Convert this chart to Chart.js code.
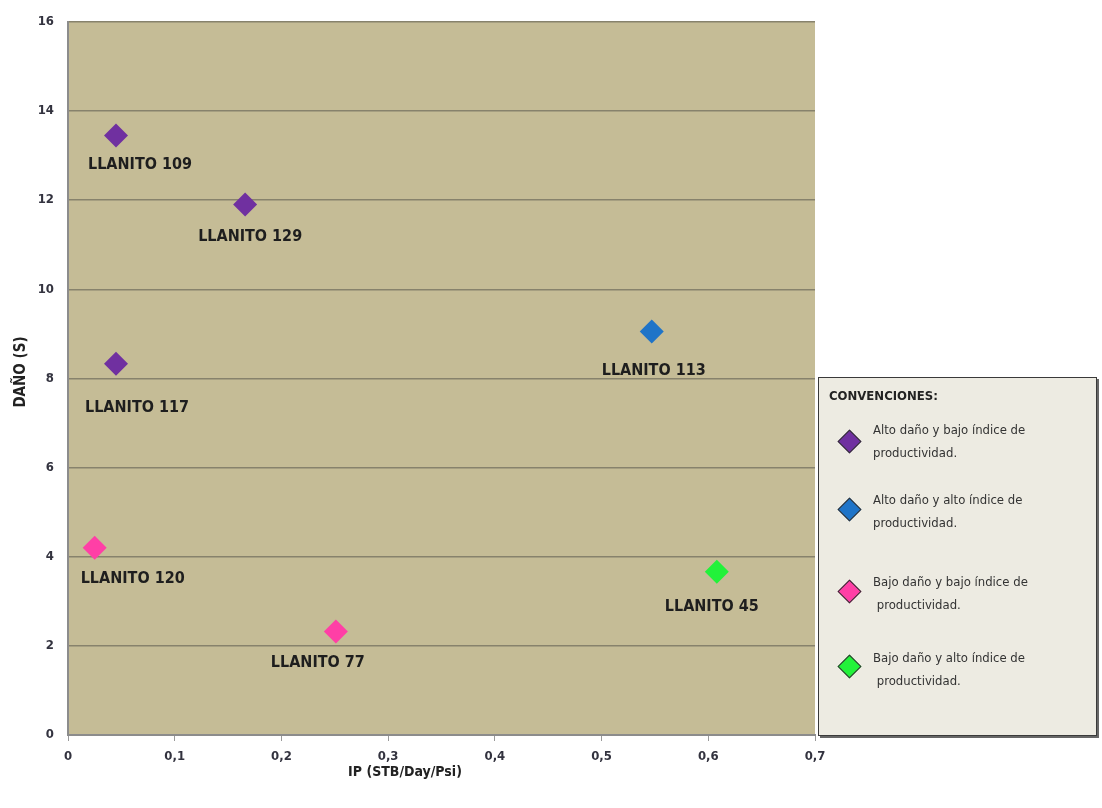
<!DOCTYPE html>
<html lang="es">
<head>
    <meta charset="UTF-8">
    <title>Daño vs IP</title>
    <script src="https://cdn.jsdelivr.net/npm/chart.js"></script>
    <style>
        body {
            margin: 0;
            background: #fff;
            font-family: 'Liberation Sans Narrow', 'Arial Narrow', 'DejaVu Sans Condensed', sans-serif;
        }
        #wrap {
            position: relative;
            width: 1102px;
            height: 808px;
        }
        #legend {
            position: absolute;
            left: 818px;
            top: 377px;
            width: 279px;
            height: 359px;
            background: #edebe2;
            border: 1px solid #3a3a3a;
            box-shadow: 2px 2px 0 #666;
            box-sizing: border-box;
            color: #333;
            font-size: 13px;
        }
        #legend .title {
            position: absolute;
            left: 10px;
            top: 10px;
            font-weight: bold;
            color: #222;
        }
        #legend .item {
            position: absolute;
            left: 54px;
            line-height: 23px;
        }
        #legend .mark {
            position: absolute;
            left: 22px;
            width: 15px;
            height: 15px;
            transform: rotate(45deg);
            border: 1px solid #333;
        }
    </style>
</head>
<body>
<div id="wrap">
    <canvas id="chart" width="1102" height="808"></canvas>
    <div id="legend"></div>
</div>
<script>
    // data
    const wells = ['LLANITO 109', 'LLANITO 129', 'LLANITO 117', 'LLANITO 113', 'LLANITO 120', 'LLANITO 77', 'LLANITO 45'];
    const ipValues = [0.045, 0.166, 0.045, 0.547, 0.025, 0.251, 0.608];
    const damageValues = [13.45, 11.9, 8.33, 9.05, 4.2, 2.32, 3.66];
    const group = [0, 0, 0, 1, 2, 2, 3];

    const groupNames = [
        ['Alto daño y bajo índice de', 'productividad.'],
        ['Alto daño y alto índice de', 'productividad.'],
        ['Bajo daño y bajo índice de', ' productividad.'],
        ['Bajo daño y alto índice de', ' productividad.']
    ];
    const groupColors = ['#7030a0', '#1f74c8', '#ff3fa6', '#22f23a'];
    const xTicks = [0, 0.1, 0.2, 0.3, 0.4, 0.5, 0.6, 0.7];

    // label placement relative to each marker (px)
    const labelShift = [[24, 29], [5, 32], [21, 44], [2, 39], [38, 31], [-18, 31], [-5, 35]];

    const FONT = "'Liberation Sans Narrow', 'Arial Narrow', 'DejaVu Sans Condensed', sans-serif";

    const datasets = groupNames.map((g, gi) => ({
        label: g.join(' '),
        data: wells.map((w, i) => ({ x: ipValues[i], y: damageValues[i], name: w, idx: i }))
                   .filter(p => group[p.idx] === gi),
        pointStyle: 'rectRot',
        pointRadius: 12,
        backgroundColor: groupColors[gi],
        borderColor: groupColors[gi],
        borderWidth: 0
    }));

    const plotBg = {
        id: 'plotBg',
        beforeDraw(chart) {
            const { ctx, chartArea: a } = chart;
            ctx.save();
            ctx.fillStyle = '#c5bc96';
            ctx.fillRect(a.left, a.top, a.right - a.left, a.bottom - a.top);
            ctx.restore();
        }
    };

    const pointLabels = {
        id: 'pointLabels',
        afterDatasetsDraw(chart) {
            const { ctx } = chart;
            ctx.save();
            ctx.font = 'bold 16px ' + FONT;
            ctx.fillStyle = '#1e1e1e';
            ctx.textAlign = 'center';
            ctx.textBaseline = 'middle';
            chart.data.datasets.forEach((ds, di) => {
                chart.getDatasetMeta(di).data.forEach((el, j) => {
                    const p = ds.data[j];
                    const s = labelShift[p.idx];
                    ctx.fillText(p.name, el.x + s[0], el.y + s[1]);
                });
            });
            // axis titles
            ctx.font = 'bold 14px ' + FONT;
            ctx.fillStyle = '#222';
            ctx.fillText('IP (STB/Day/Psi)', 405, 772);
            ctx.translate(21, 372);
            ctx.rotate(-Math.PI / 2);
            ctx.font = 'bold 15px ' + FONT;
            ctx.fillText('DAÑO (S)', 0, 0);
            ctx.restore();
        }
    };

    new Chart(document.getElementById('chart'), {
        type: 'scatter',
        data: { datasets },
        options: {
            responsive: false,
            animation: false,
            layout: { padding: { top: 19, right: 287, left: 0, bottom: 0 } },
            plugins: {
                legend: { display: false },
                tooltip: { enabled: false }
            },
            scales: {
                x: {
                    type: 'linear',
                    min: 0,
                    max: 0.7,
                    afterBuildTicks(axis) {
                        axis.ticks = xTicks.map(v => ({ value: v }));
                    },
                    afterFit(axis) { axis.height = 73; },
                    grid: {
                        drawOnChartArea: false,
                        drawTicks: true,
                        tickLength: 6,
                        color: '#9a9a9a'
                    },
                    border: { color: '#8c8c8c', width: 2 },
                    ticks: {
                        color: '#33333f',
                        padding: 8,
                        font: { family: FONT, size: 13, weight: 'bold' },
                        callback: v => String(v).replace('.', ',')
                    }
                },
                y: {
                    min: 0,
                    max: 16,
                    afterFit(axis) { axis.width = 68; },
                    ticks: {
                        stepSize: 2,
                        color: '#33333f',
                        padding: 14,
                        font: { family: FONT, size: 13, weight: 'bold' }
                    },
                    grid: {
                        color: '#87826c',
                        lineWidth: 1.5,
                        drawTicks: false
                    },
                    border: { color: '#8c8c8c', width: 2 }
                }
            }
        },
        plugins: [plotBg, pointLabels]
    });

    // legend box
    const legend = document.getElementById('legend');
    const title = document.createElement('div');
    title.className = 'title';
    title.textContent = 'CONVENCIONES:';
    legend.appendChild(title);
    const markTops = [64, 132, 214, 289];
    const textTops = [52, 122, 204, 280];
    groupNames.forEach((g, i) => {
        const m = document.createElement('div');
        m.className = 'mark';
        m.style.top = (markTops[i] - 9) + 'px';
        m.style.background = groupColors[i];
        legend.appendChild(m);
        const t = document.createElement('div');
        t.className = 'item';
        t.style.top = (textTops[i] - 12) + 'px';
        t.innerHTML = g[0] + '<br>' + g[1].replace(' ', '&nbsp;');
        legend.appendChild(t);
    });
</script>
</body>
</html>
